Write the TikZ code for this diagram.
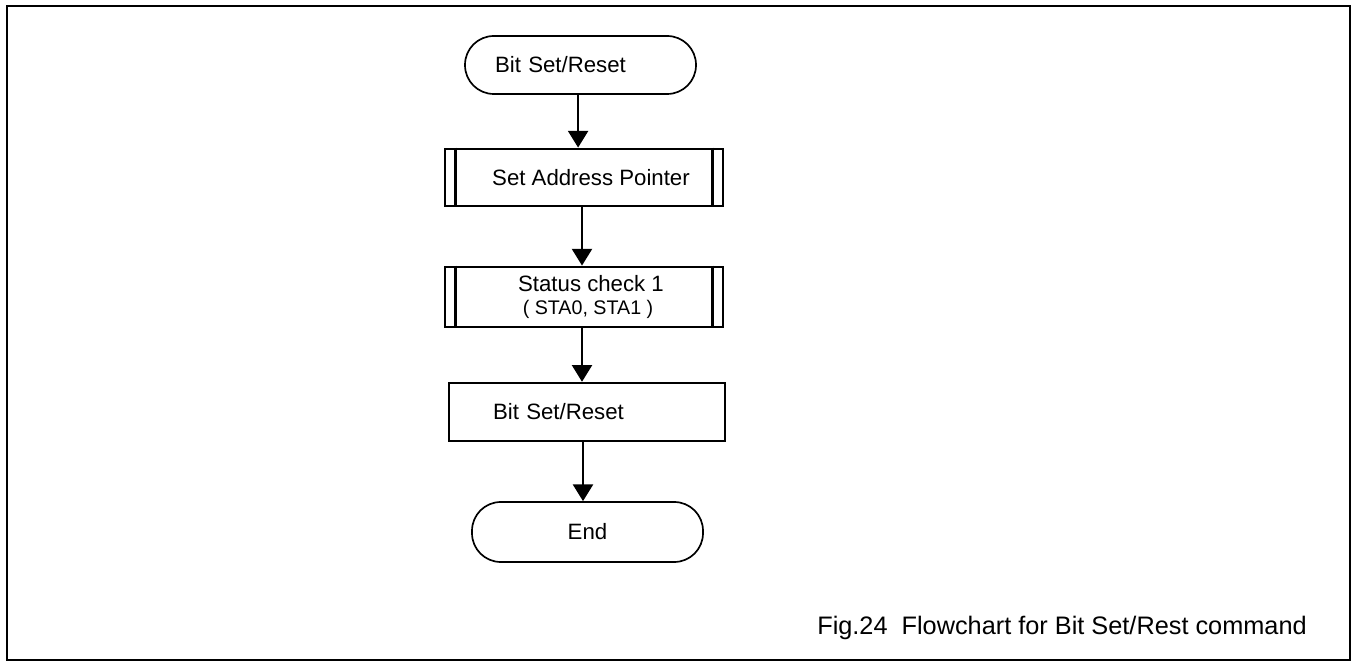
\documentclass[tikz,border=0pt]{standalone}
\usepackage{fontspec}
\setmainfont{Liberation Sans}
\usetikzlibrary{arrows.meta}

\tikzset{
    terminal/.style={draw, line width=1.2pt, rounded corners=0.72cm, minimum height=1.45cm},
    subproc/.style={draw, line width=2pt, minimum width=6.95cm, align=center},
    process/.style={draw, line width=1.7pt, minimum width=6.9cm, minimum height=1.45cm},
    flow/.style={line width=1.8pt, -{Triangle[length=0.42cm,width=0.5cm]}},
}

\begin{document}
\begin{tikzpicture}
    \useasboundingbox (0,0) rectangle (33.85,16.65);
    \draw [line width=1.7pt] (0.175,0.15) rectangle (33.75,16.5);

    \begin{scope}[font=\fontsize{15.8}{19}\selectfont]
        \node [terminal, minimum width=5.775cm, inner xsep=0.75cm, text width=4.275cm, align=left] (start) at (14.5125,15.025) {Bit Set/Reset};
        \node [subproc, minimum height=1.425cm] (addr) at (14.6,12.2125) {\hspace{0.35cm}Set Address Pointer};
        \node [subproc, minimum height=1.5cm] (status) at (14.6,9.225) {\hspace{0.35cm}Status check 1\\[-2pt]{\fontsize{14}{16}\selectfont\hspace{0.2cm}( STA0, STA1 )}};
        \node [process, inner xsep=1.1cm, text width=4.7cm, align=left] (bitset) at (14.675,6.35) {Bit Set/Reset};
        \node [terminal, minimum width=5.775cm, minimum height=1.5cm] (end) at (14.6875,3.35) {End};

        % side bars of the subroutine boxes
        \foreach \b in {addr,status}{%
            \draw [line width=2pt] ([xshift=0.3cm]\b.north west) -- ([xshift=0.3cm]\b.south west);
            \draw [line width=2pt] ([xshift=-0.3cm]\b.north east) -- ([xshift=-0.3cm]\b.south east);}

        \draw [flow] ([xshift=-0.06cm]start.south) -- ([xshift=-0.06cm]start.south |- addr.north);
        \draw [flow] ([xshift=-0.05cm]addr.south) -- ([xshift=-0.05cm]addr.south |- status.north);
        \draw [flow] ([xshift=-0.05cm]status.south) -- ([xshift=-0.05cm]status.south |- bitset.north);
        \draw [flow] ([xshift=-0.1cm]bitset.south) -- ([xshift=-0.1cm]bitset.south |- end.north);
    \end{scope}

    \node [anchor=west, inner sep=0pt, font=\fontsize{18}{21}\selectfont] (caption) at (20.425,0.95) {Fig.24\ \ Flowchart for Bit Set/Rest command};
\end{tikzpicture}
\end{document}
